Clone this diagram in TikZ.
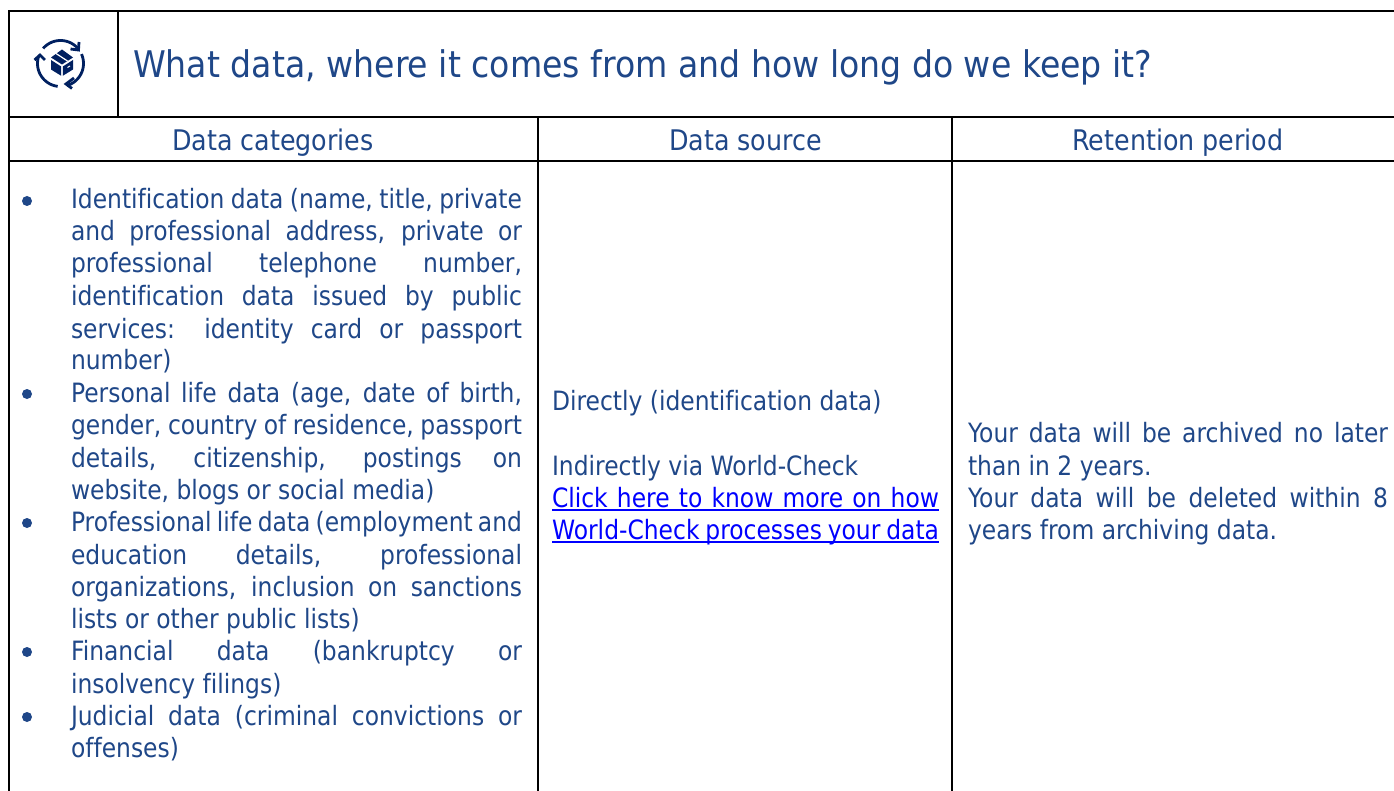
\documentclass[tikz,border=0pt]{standalone}
\usepackage{fontspec}
\setmainfont{DejaVu Sans}
\newfontfamily\bodyf[FakeStretch=.88,Ligatures=NoCommon]{DejaVu Sans}
\newfontfamily\headf[FakeStretch=.893,Ligatures=NoCommon]{DejaVu Sans}
\newfontfamily\titlef[FakeStretch=.903,Ligatures=NoCommon]{DejaVu Sans}
\definecolor{ink}{HTML}{1F4788}
\definecolor{navy}{HTML}{002060}
\definecolor{linkblue}{HTML}{0000FF}
\newcommand{\jl}[2]{\makebox[#1pt][s]{#2}}
\begin{document}
\begin{tikzpicture}[x=1pt,y=-1pt,
  grid/.style={draw=black,line width=2pt},
  body/.style={anchor=base west,inner sep=0pt,outer sep=0pt,text=ink,font=\bodyf\fontsize{26.6}{30}\selectfont},
  head/.style={anchor=base,inner sep=0pt,outer sep=0pt,text=ink,font=\headf\fontsize{28.4}{30}\selectfont},
  linkline/.style={body,text=linkblue},
  linkrule/.style={draw=linkblue,line width=2pt},
  dot/.style={circle,fill=ink,inner sep=0pt,minimum size=10pt},
  ring/.style={draw=navy,line width=2.8pt},
  barb/.style={draw=navy,line width=2.8pt,line join=miter}]
\useasboundingbox (0,0) rectangle (1394,791);
% table grid
\draw[grid] (1394,11) -- (9,11) -- (9,791);
\draw[grid] (118,11) -- (118,117);
\draw[grid] (9,117) -- (1394,117);
\draw[grid] (9,161) -- (1394,161);
\draw[grid] (538,117) -- (538,791);
\draw[grid] (952,117) -- (952,791);
% icon
\draw[ring] plot[domain=-139:-38,samples=30,smooth] ({60.5+23*cos(\x)},{63.5+23*sin(\x)});
\draw[ring] plot[domain=-24:74,samples=30,smooth] ({60.5+23*cos(\x)},{63.5+23*sin(\x)});
\draw[ring] plot[domain=97:197,samples=30,smooth] ({60.5+23*cos(\x)},{63.5+23*sin(\x)});
\draw[barb] (79,42) -- (78.5,50) -- (70.5,49);
\draw[barb] (74,78) -- (66,84) -- (72,88.5);
\draw[barb] (34.5,60) -- (40,55) -- (45,60);
\fill[navy] (62,49.5) -- (73,57.5) -- (62,64.5) -- (51,57.5) -- cycle;
\fill[navy] (51,60) -- (61.2,66.5) -- (61.2,75.8) -- (51,69.5) -- cycle;
\fill[navy] (73,60) -- (62.8,66.5) -- (62.8,75.8) -- (73,69.5) -- cycle;
\draw[white,line width=1.2pt] (56,53.5) -- (67.5,61);
\draw[white,line width=1pt] (67.5,67.5) -- (70,66);
% title
\node[anchor=base west,inner sep=0pt,text=ink,font=\titlef\fontsize{36.7}{40}\selectfont] (title) at (133,78) {What data, where it comes from and how long do we keep it?};
% headers
\node[head] (h1) at (273,150.5) {Data categories};
\node[head] (h2) at (745.5,150.5) {Data source};
\node[head] (h3) at (1178,150.5) {Retention period};
% bullets
\node[dot] (b1) at (27,201) {};
\node[dot] (b2) at (27,394) {};
\node[dot] (b3) at (27,523) {};
\node[dot] (b4) at (27,652) {};
\node[dot] (b5) at (27,717) {};
% column 1
\node[body] (a1) at (71,209) {\jl{451}{Identification data (name, title, private}};
\node[body] (a2) at (71,241) {\jl{451}{and professional address, private or}};
\node[body] (a3) at (71,273) {\jl{451}{professional telephone number,}};
\node[body] (a4) at (71,306) {\jl{451}{identification data issued by public}};
\node[body] (a5) at (71,338) {\jl{451}{services: identity card or passport}};
\node[body] (a6) at (71,370) {number)};
\node[body] (a7) at (71,402) {\jl{451}{Personal life data (age, date of birth,}};
\node[body] (a8) at (71,434) {\jl{451}{gender, country of residence, passport}};
\node[body] (a9) at (71,467) {\jl{451}{details, citizenship, postings on}};
\node[body] (a10) at (71,499) {website, blogs or social media)};
\node[body] (a11) at (71,531) {\jl{451}{Professional life data (employment and}};
\node[body] (a12) at (71,564) {\jl{451}{education details, professional}};
\node[body] (a13) at (71,596) {\jl{451}{organizations, inclusion on sanctions}};
\node[body] (a14) at (71,628) {lists or other public lists)};
\node[body] (a15) at (71,660) {\jl{451}{Financial data (bankruptcy or}};
\node[body] (a16) at (71,693) {insolvency filings)};
\node[body] (a17) at (71,725) {\jl{451}{Judicial data (criminal convictions or}};
\node[body] (a18) at (71,757) {offenses)};
% column 2
\node[body] (s1) at (552,410) {Directly (identification data)};
\node[body] (s2) at (552,475) {Indirectly via World-Check};
\node[linkline] (s3) at (552,507) {\jl{387}{Click here to know more on how}};
\node[linkline] (s4) at (552,539) {\jl{387}{World-Check processes your data}};
\draw[linkrule] ([yshift=-3pt]s3.base west) -- ([yshift=-3pt]s3.base east);
\draw[linkrule] ([yshift=-3pt]s4.base west) -- ([yshift=-3pt]s4.base east);
% column 3
\node[body] (r1) at (968,442) {\jl{420}{Your data will be archived no later}};
\node[body] (r2) at (968,475) {than in 2 years.};
\node[body] (r3) at (968,507) {\jl{420}{Your data will be deleted within 8}};
\node[body] (r4) at (968,539) {years from archiving data.};
\end{tikzpicture}
\end{document}
